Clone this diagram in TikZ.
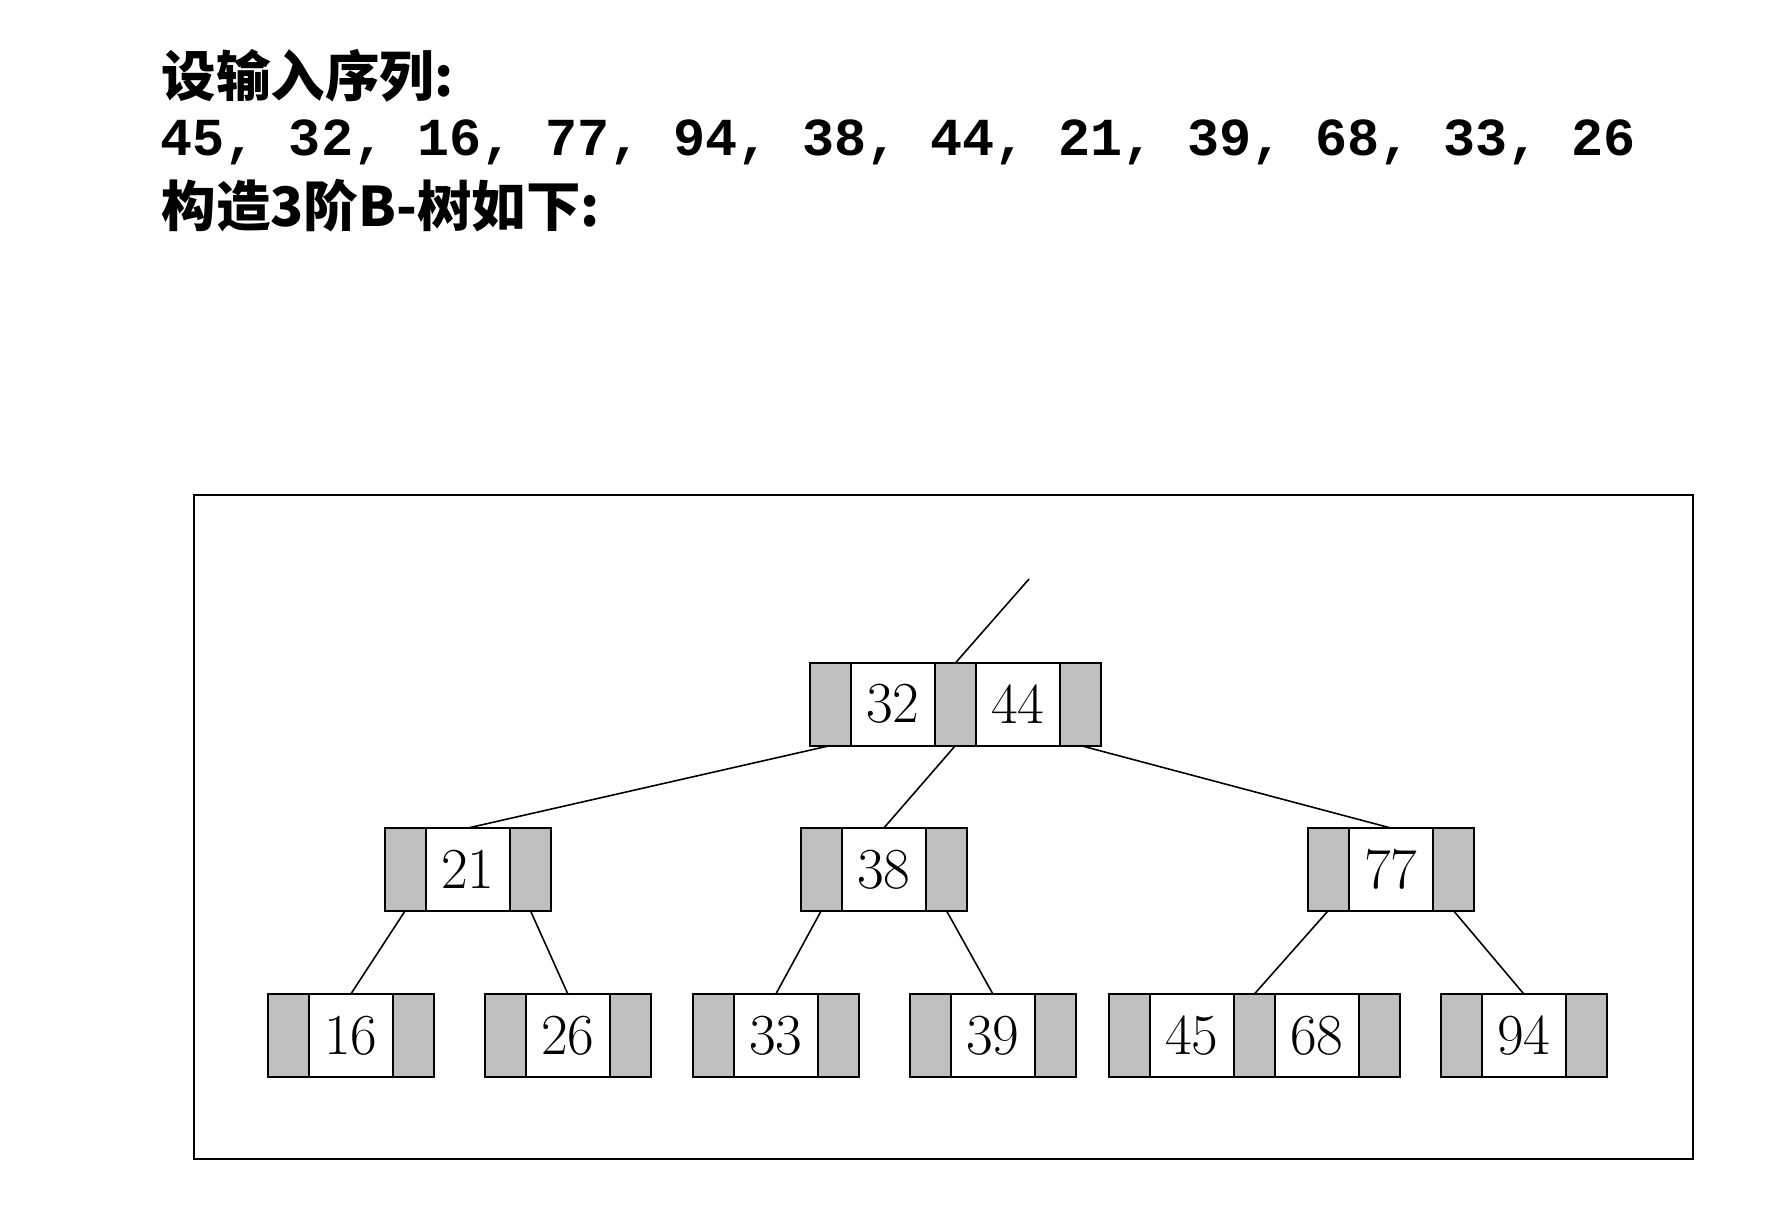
\documentclass[tikz,border=0pt]{standalone}
\usepackage{fontspec}
\usepackage{tikz}
\usetikzlibrary{positioning}
\newfontfamily\cjk{Noto Sans CJK SC}
\newfontfamily\mono{Liberation Mono}
\tikzstyle{ptr}=[rectangle, draw, line width=0.6pt, fill=black!25, minimum width=0.406cm, minimum height=0.825cm, inner sep=0pt, outer sep=0pt]
\tikzstyle{key}=[rectangle, draw, line width=0.6pt, fill=white, minimum width=0.844cm, minimum height=0.825cm, inner sep=0pt, outer sep=0pt, font=\fontsize{16.5}{16.5}\selectfont]
\tikzstyle{edge}=[line width=0.45pt]
\tikzstyle{frame}=[draw, line width=0.6pt]
\tikzstyle{title}=[anchor=base west, inner sep=0pt]

\begin{document}
\begin{tikzpicture}[x=0.01cm, y=-0.01cm]
                \useasboundingbox (0,0) rectangle (1767,1224);

                % Texte
                \node[title, font=\cjk\bfseries\fontsize{15.5}{15.5}\selectfont] (l1) at (161,97) {设输入序列:};
                \node[title, font=\mono\bfseries\fontsize{15.2}{15.2}\selectfont] (l2) at (160,155) {45, 32, 16, 77, 94, 38, 44, 21, 39, 68, 33, 26};
                \node[title, font=\cjk\bfseries\fontsize{15.5}{15.5}\selectfont] (l3) at (161,226) {构造3阶B-树如下:};

                % Cadre
                \node[frame, anchor=north west, minimum width=14.98cm, minimum height=6.64cm, outer sep=0pt] (cadre) at (194,495) {};

                % Racine
                \node[ptr, anchor=north west] (rp0) at (810,663) {};
                \node[key, right=0pt of rp0] (r32) {32};
                \node[ptr, right=0pt of r32] (rp1) {};
                \node[key, right=0pt of rp1] (r44) {44};
                \node[ptr, right=0pt of r44] (rp2) {};
                \coordinate (haut) at (1029,579);

                % Niveau 2
                \node[ptr, anchor=north west] (p21a) at (385,828) {};
                \node[key, right=0pt of p21a] (k21) {21};
                \node[ptr, right=0pt of k21] (p21b) {};

                \node[ptr, anchor=north west] (p38a) at (801,828) {};
                \node[key, right=0pt of p38a] (k38) {38};
                \node[ptr, right=0pt of k38] (p38b) {};

                \node[ptr, anchor=north west] (p77a) at (1308,828) {};
                \node[key, right=0pt of p77a] (k77) {77};
                \node[ptr, right=0pt of k77] (p77b) {};

                % Feuilles
                \node[ptr, anchor=north west] (p16a) at (268,994) {};
                \node[key, right=0pt of p16a] (k16) {16};
                \node[ptr, right=0pt of k16] (p16b) {};

                \node[ptr, anchor=north west] (p26a) at (485,994) {};
                \node[key, right=0pt of p26a] (k26) {26};
                \node[ptr, right=0pt of k26] (p26b) {};

                \node[ptr, anchor=north west] (p33a) at (693,994) {};
                \node[key, right=0pt of p33a] (k33) {33};
                \node[ptr, right=0pt of k33] (p33b) {};

                \node[ptr, anchor=north west] (p39a) at (910,994) {};
                \node[key, right=0pt of p39a] (k39) {39};
                \node[ptr, right=0pt of k39] (p39b) {};

                \node[ptr, anchor=north west] (p45a) at (1109,994) {};
                \node[key, right=0pt of p45a] (k45) {45};
                \node[ptr, right=0pt of k45] (p45b) {};
                \node[key, right=0pt of p45b] (k68) {68};
                \node[ptr, right=0pt of k68] (p68b) {};

                \node[ptr, anchor=north west] (p94a) at (1441,994) {};
                \node[key, right=0pt of p94a] (k94) {94};
                \node[ptr, right=0pt of k94] (p94b) {};

                % Arêtes
                \draw[edge] (rp1.north) -- (haut);
                \draw[edge] (rp0.south) -- (k21.north);
                \draw[edge] (rp1.south) -- (k38.north);
                \draw[edge] (rp2.south) -- (k77.north);
                \draw[edge] (p21a.south) -- (k16.north);
                \draw[edge] (p21b.south) -- (k26.north);
                \draw[edge] (p38a.south) -- (k33.north);
                \draw[edge] (p38b.south) -- (k39.north);
                \draw[edge] (p77a.south) -- (p45b.north);
                \draw[edge] (p77b.south) -- (k94.north);
            \end{tikzpicture}
\end{document}
